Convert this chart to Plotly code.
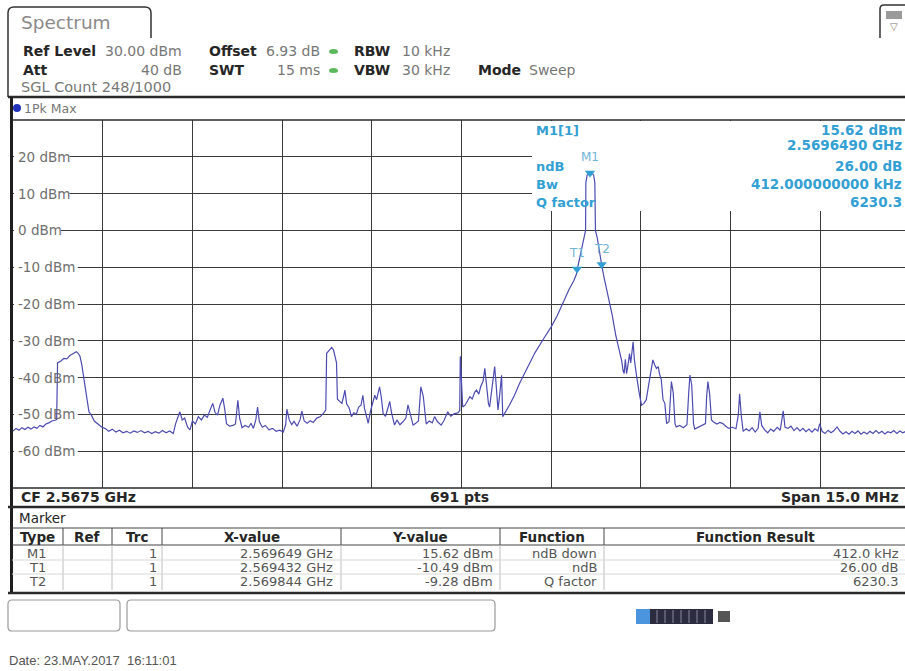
import plotly.graph_objects as go

# ---------------- data ----------------
freq_mhz = [
    2560.00, 2560.05, 2560.10, 2560.15, 2560.20, 2560.25, 2560.30, 2560.35, 2560.40, 2560.45,
    2560.50, 2560.55, 2560.60, 2560.65, 2560.70, 2560.73, 2560.745, 2560.80, 2560.85, 2560.90,
    2560.95, 2561.00, 2561.03, 2561.06, 2561.09, 2561.12, 2561.15, 2561.17, 2561.20, 2561.24,
    2561.27, 2561.31, 2561.36, 2561.42, 2561.48, 2561.55, 2561.60, 2561.66, 2561.72, 2561.78,
    2561.84, 2561.90, 2561.96, 2562.02, 2562.08, 2562.14, 2562.20, 2562.26, 2562.32, 2562.38,
    2562.44, 2562.50, 2562.56, 2562.62, 2562.68, 2562.72, 2562.76, 2562.79, 2562.83, 2562.87,
    2562.92, 2562.96, 2563.00, 2563.05, 2563.10, 2563.15, 2563.20, 2563.25, 2563.30, 2563.34,
    2563.38, 2563.42, 2563.46, 2563.51, 2563.54, 2563.57, 2563.62, 2563.68, 2563.72, 2563.76,
    2563.79, 2563.83, 2563.88, 2563.94, 2563.98, 2564.02, 2564.06, 2564.09, 2564.12, 2564.17,
    2564.22, 2564.28, 2564.34, 2564.40, 2564.46, 2564.52, 2564.56, 2564.58, 2564.62, 2564.66,
    2564.70, 2564.75, 2564.80, 2564.83, 2564.87, 2564.92, 2564.97, 2565.02, 2565.08, 2565.14,
    2565.20, 2565.23, 2565.245, 2565.28, 2565.31, 2565.33, 2565.36, 2565.39, 2565.41, 2565.425,
    2565.46, 2565.50, 2565.53, 2565.55, 2565.58, 2565.62, 2565.66, 2565.70, 2565.74, 2565.78,
    2565.82, 2565.85, 2565.88, 2565.91, 2565.94, 2565.98, 2566.02, 2566.05, 2566.08, 2566.11,
    2566.13, 2566.16, 2566.19, 2566.23, 2566.27, 2566.30, 2566.33, 2566.38, 2566.42, 2566.47,
    2566.52, 2566.57, 2566.605, 2566.64, 2566.69, 2566.73, 2566.78, 2566.82, 2566.86, 2566.91,
    2566.96, 2567.01, 2567.05, 2567.10, 2567.16, 2567.21, 2567.27, 2567.32, 2567.38, 2567.44,
    2567.47, 2567.48, 2567.50, 2567.52, 2567.56, 2567.60, 2567.64, 2567.68, 2567.72, 2567.75,
    2567.79, 2567.82, 2567.86, 2567.89, 2567.92, 2567.95, 2567.97, 2568.00, 2568.03, 2568.055,
    2568.08, 2568.11, 2568.14, 2568.17, 2568.19, 2568.23, 2568.27, 2568.30, 2568.38, 2568.47,
    2568.60, 2568.73, 2568.87, 2569.00, 2569.10, 2569.20, 2569.30, 2569.38, 2569.42, 2569.45,
    2569.50, 2569.56, 2569.575, 2569.58, 2569.60, 2569.63, 2569.649, 2569.68, 2569.71, 2569.73,
    2569.74, 2569.77, 2569.80, 2569.84, 2569.88, 2569.95, 2570.02, 2570.08, 2570.14, 2570.18,
    2570.20, 2570.22, 2570.24, 2570.26, 2570.28, 2570.31, 2570.33, 2570.35, 2570.37, 2570.39,
    2570.41, 2570.43, 2570.47, 2570.51, 2570.55, 2570.59, 2570.63, 2570.67, 2570.70, 2570.73,
    2570.76, 2570.79, 2570.81, 2570.84, 2570.87, 2570.90, 2570.93, 2570.97, 2571.01, 2571.04,
    2571.07, 2571.09, 2571.15, 2571.21, 2571.27, 2571.30, 2571.32, 2571.35, 2571.38, 2571.40,
    2571.46, 2571.52, 2571.58, 2571.60, 2571.62, 2571.65, 2571.68, 2571.71, 2571.77, 2571.82,
    2571.87, 2571.92, 2571.97, 2572.03, 2572.09, 2572.13, 2572.15, 2572.18, 2572.21, 2572.26,
    2572.31, 2572.36, 2572.41, 2572.46, 2572.49, 2572.52, 2572.57, 2572.62, 2572.67, 2572.72,
    2572.78, 2572.83, 2572.88, 2572.91, 2572.96, 2573.01, 2573.06, 2573.11, 2573.16, 2573.21,
    2573.26, 2573.31, 2573.36, 2573.41, 2573.46, 2573.49, 2573.53, 2573.58, 2573.63, 2573.68,
    2573.73, 2573.78, 2573.83, 2573.88, 2573.93, 2573.98, 2574.03, 2574.08, 2574.13, 2574.18,
    2574.23, 2574.28, 2574.33, 2574.38, 2574.43, 2574.48, 2574.53, 2574.58, 2574.63, 2574.68,
    2574.73, 2574.78, 2574.83, 2574.88, 2574.93, 2575.00,
]
level_dbm = [
    -54.5, -53.8, -54.3, -53.6, -54.1, -53.5, -54.0, -53.4, -53.8, -53.0,
    -53.4, -52.6, -52.3, -51.8, -51.6, -51.4, -36.0, -35.5, -34.8, -34.9,
    -34.0, -33.6, -33.2, -33.0, -33.4, -34.2, -36.5, -38.5, -42.0, -46.5,
    -49.3, -50.2, -51.8, -52.6, -53.4, -53.9, -54.6, -54.0, -54.8, -54.3,
    -55.0, -54.6, -55.1, -54.5, -54.9, -54.4, -55.0, -54.6, -55.2, -54.7,
    -55.1, -54.4, -55.0, -54.5, -55.2, -52.5, -50.8, -49.3, -51.5, -51.0,
    -53.5, -54.2, -51.8, -52.6, -50.6, -51.5, -50.2, -50.8, -48.6, -47.0,
    -49.5, -50.2, -47.5, -45.6, -48.5, -52.5, -53.2, -53.0, -52.6, -46.2,
    -51.0, -53.6, -53.0, -53.5, -52.4, -53.8, -51.5, -48.0, -52.0, -53.5,
    -53.0, -54.2, -53.8, -54.6, -54.3, -54.8, -52.8, -48.6, -51.5, -52.8,
    -51.9, -53.2, -51.5, -49.1, -51.8, -52.4, -51.7, -52.2, -51.0, -50.6,
    -49.5, -48.8, -33.4, -32.8, -32.2, -31.8, -32.5, -34.8, -36.0, -45.9,
    -46.5, -47.0, -45.0, -43.4, -47.2, -48.2, -50.6, -49.5, -50.0, -48.0,
    -47.5, -44.8, -48.5, -50.5, -52.4, -49.0, -46.5, -44.8, -46.0, -43.5,
    -42.5, -45.5, -49.8, -50.5, -48.5, -46.5, -49.5, -52.9, -51.5, -52.8,
    -52.0, -51.0, -47.4, -50.0, -52.9, -52.5, -51.8, -42.5, -45.0, -52.6,
    -51.8, -52.3, -50.6, -52.0, -52.9, -51.6, -49.3, -50.5, -49.8, -49.6,
    -49.0, -34.2, -40.0, -48.0, -47.5, -46.3, -45.2, -45.8, -44.0, -43.4,
    -44.5, -42.5, -41.0, -37.5, -42.0, -47.0, -48.0, -44.0, -39.0, -37.0,
    -42.0, -48.8, -44.5, -39.4, -50.6, -49.5, -48.5, -47.5, -45.0, -41.6,
    -37.4, -33.2, -29.5, -26.2, -23.2, -19.5, -16.0, -13.6, -12.0, -9.5,
    -5.5, -1.2, 0.0, 13.0, 15.0, 15.5, 15.62, 15.5, 15.0, 13.0,
    0.0, -2.0, -5.5, -9.0, -12.5, -17.5, -23.0, -28.5, -33.0, -35.5,
    -38.0, -38.9, -35.0, -38.9, -37.0, -33.5, -36.0, -33.5, -30.3, -35.0,
    -38.5, -39.8, -44.0, -47.5, -47.0, -46.0, -42.0, -38.5, -35.2, -36.5,
    -37.5, -37.0, -38.9, -40.5, -46.0, -47.0, -52.5, -52.0, -41.1, -44.0,
    -52.5, -53.4, -53.0, -53.6, -52.8, -44.0, -39.3, -42.0, -52.5, -54.0,
    -53.5, -53.0, -52.5, -45.0, -41.1, -44.5, -51.5, -52.0, -52.6, -52.2,
    -52.5, -53.2, -53.8, -53.5, -53.9, -50.0, -44.4, -50.5, -54.6, -53.9,
    -54.5, -53.6, -54.8, -53.8, -49.3, -53.0, -54.2, -55.0, -54.0, -54.6,
    -53.5, -54.3, -49.0, -53.5, -53.8, -53.2, -54.4, -53.6, -54.5, -53.8,
    -54.7, -54.0, -54.8, -53.9, -54.5, -52.5, -54.6, -55.2, -54.3, -55.0,
    -54.4, -53.4, -54.6, -55.3, -54.7, -55.4, -54.6, -55.2, -54.5, -55.4,
    -54.8, -55.3, -54.6, -55.2, -54.4, -55.1, -54.6, -55.3, -54.7, -55.0,
    -54.4, -55.2, -54.5, -55.0, -54.6, -54.9,
]

marker_names = ["M1", "T1", "T2"]
marker_freq_mhz = [2569.649, 2569.432, 2569.844]
marker_level_dbm = [15.62, -10.49, -9.28]
marker_x_text = ["2.569649 GHz", "2.569432 GHz", "2.569844 GHz"]
marker_y_text = ["15.62 dBm", "-10.49 dBm", "-9.28 dBm"]
marker_function = ["ndB down", "ndB", "Q factor"]
marker_result = ["412.0 kHz", "26.00 dB", "6230.3"]

y_tick_vals = [20, 10, 0, -10, -20, -30, -40, -50, -60]
y_tick_text = ["20 dBm", "10 dBm", "0 dBm", "-10 dBm", "-20 dBm", "-30 dBm",
               "-40 dBm", "-50 dBm", "-60 dBm"]

info_labels = ["M1[1]", "", "ndB", "Bw", "Q factor"]
info_values = ["15.62 dBm", "2.5696490 GHz", "26.00 dB", "412.000000000 kHz", "6230.3"]

table_headers = ["Type", "Ref", "Trc", "X-value", "Y-value", "Function", "Function Result"]

# ---------------- layout helpers ----------------
W, H = 905, 671
PL, PR, PT, PB = 13, 905, 120, 488
X_START, X_END = 2560.0, 2560.0 + (PR - PL) / 59.8
Y_MIN, Y_MAX = -70, 30

def X(px):
    return (px - PL) / (PR - PL)

def Y(py):
    return (PB - py) / (PB - PT)

def FX(px):
    return X_START + (px - PL) / 59.8

def FY(py):
    return Y_MAX - (py - PT) / (PB - PT) * (Y_MAX - Y_MIN)

FONT = "DejaVu Sans"
annotations = []
shapes = []

def text(px, py, s, size=14, color="#222222", anchor="left", weight="normal", family=FONT):
    annotations.append(dict(xref="paper", yref="paper", x=X(px), y=Y(py), text=s,
                            showarrow=False, xanchor=anchor, yanchor="middle", borderpad=0,
                            font=dict(family=family, size=size, color=color, weight=weight)))

def line(x0, y0, x1, y1, color="#333333", width=1.0):
    shapes.append(dict(type="line", xref="paper", yref="paper", x0=X(x0), y0=Y(y0),
                       x1=X(x1), y1=Y(y1), line=dict(color=color, width=width), layer="above"))

def rect(x0, y0, x1, y1, fill="white", color="rgba(0,0,0,0)", width=0):
    shapes.append(dict(type="rect", xref="paper", yref="paper", x0=X(x0), y0=Y(y0),
                       x1=X(x1), y1=Y(y1), fillcolor=fill, line=dict(color=color, width=width),
                       layer="above"))

def path(points, color="#333333", width=1.2, fill=None):
    d = ""
    for cmd, pts in points:
        d += cmd + " " + " ".join(f"{X(a):.5f},{Y(b):.5f}" for a, b in pts) + " "
    s = dict(type="path", xref="paper", yref="paper", path=d.strip(),
             line=dict(color=color, width=width), layer="above")
    if fill:
        s["fillcolor"] = fill
    shapes.append(s)

def between_rect(px0, py0, px1, py1):
    shapes.append(dict(type="rect", xref="x", yref="y", x0=FX(px0), x1=FX(px1),
                       y0=FY(py0), y1=FY(py1), fillcolor="white", line=dict(width=0),
                       layer="between"))

MARK = "#33a0d3"
GRAY = "#777777"
DARK = "#262626"

# ---------------- header / tab ----------------
path([("M", [(8, 97)]), ("L", [(8, 13)]), ("Q", [(8, 7), (14, 7)]), ("L", [(145, 7)]),
      ("Q", [(151, 7), (151, 13)]), ("L", [(151, 38), (878, 38)])], color="#333333", width=1.5)
text(20, 22, "Spectrum", size=18.5, color="#8a8a8a")
# top-right icon
path([("M", [(880, 38)]), ("L", [(880, 9)]), ("Q", [(880, 5), (884, 5)]), ("L", [(905, 5)])],
     color="#333333", width=1.5)
rect(886, 11, 902, 19, fill="#9a9a9a")
text(894, 27, "▽", size=10, color="#777777", anchor="center")

line(8, 97, 905, 97, color="#2a2a2a", width=2.5)

text(22, 51, "Ref Level", weight="bold", color=DARK)
text(183, 51, "30.00 dBm", color=GRAY, anchor="right")
text(208, 51, "Offset", weight="bold", color=DARK)
text(321, 51, "6.93 dB", color=GRAY, anchor="right")
shapes.append(dict(type="circle", xref="paper", yref="paper", x0=X(329), x1=X(338),
                   y0=Y(49), y1=Y(54), fillcolor="#5cb85c", line=dict(width=0)))
text(353, 51, "RBW", weight="bold", color=DARK)
text(401, 51, "10 kHz", color=GRAY)

text(22, 70, "Att", weight="bold", color=DARK)
text(183, 70, "40 dB", color=GRAY, anchor="right")
text(208, 70, "SWT", weight="bold", color=DARK)
text(321, 70, "15 ms", color=GRAY, anchor="right")
shapes.append(dict(type="circle", xref="paper", yref="paper", x0=X(329), x1=X(338),
                   y0=Y(68), y1=Y(73), fillcolor="#5cb85c", line=dict(width=0)))
text(353, 70, "VBW", weight="bold", color=DARK)
text(401, 70, "30 kHz", color=GRAY)
text(477, 70, "Mode", weight="bold", color=DARK)
text(528, 70, "Sweep", color=GRAY)

text(20, 87, "SGL Count 248/1000", size=14.5, color=GRAY)

shapes.append(dict(type="circle", xref="paper", yref="paper", x0=X(13), x1=X(21),
                   y0=Y(104), y1=Y(112), fillcolor="#2233bb", line=dict(width=0)))
text(23, 108, "1Pk Max", size=12.5, color=GRAY)

# ---------------- diagram frame ----------------
line(11.5, 97, 11.5, 594, color="#1e1e1e", width=3)
line(12, PT, 905, PT, color="#2a2a2a", width=1.5)
line(12, PB, 905, PB, color="#2a2a2a", width=1.5)
line(8, 507, 905, 507, color="#2a2a2a", width=2.5)

# white box for marker info (above grid, below trace)
between_rect(532, PT + 1, 906, 211)
# white boxes behind level labels
for v, t in zip(y_tick_vals, y_tick_text):
    py = PT + (Y_MAX - v) / (Y_MAX - Y_MIN) * (PB - PT)
    w = 8.4 * len(t) + 6
    between_rect(PL + 1, py - 6, PL + w, py + 6)
    annotations.append(dict(xref="paper", yref="y", x=X(17), y=v, text=t, showarrow=False,
                            xanchor="left", yanchor="middle", borderpad=0,
                            font=dict(family=FONT, size=13.5, color="#6f6f6f")))

# marker info text
info_rows_y = [130, 145, 166, 184, 202]
for lab, val, py in zip(info_labels, info_values, info_rows_y):
    if lab:
        text(535, py, lab, size=13, color=MARK, weight="bold")
    text(903, py, val, size=13.5, color=MARK, weight="bold", anchor="right")

# bottom info row
text(20, 497, "CF 2.5675 GHz", weight="bold", color=DARK, size=14)
text(460, 497, "691 pts", weight="bold", color=DARK, size=14, anchor="center")
text(900, 497, "Span 15.0 MHz", weight="bold", color=DARK, size=14, anchor="right")

# ---------------- marker table ----------------
text(18, 518, "Marker", color=DARK, size=13.5)
T_TOP, T_HB = 528, 545
row_y = [553, 567, 581]
T_BOT = 590
col_sep = [63, 112, 162, 341, 500, 604]
line(12, T_TOP, 905, T_TOP, color="#444444", width=1)
line(12, T_HB, 905, T_HB, color="#444444", width=1)
for cx in col_sep:
    line(cx, T_TOP, cx, T_HB, color="#444444", width=1)
    line(cx, T_HB, cx, T_BOT, color="#bdbdbd", width=1)
for ry in row_y[:-1]:
    line(12, ry + 7, 905, ry + 7, color="#d8d8d8", width=1)
line(8, 593, 905, 593, color="#2a2a2a", width=2.5)

hdr_x = [37, 87, 137, 252, 420, 552, 755]
for hx, h in zip(hdr_x, table_headers):
    text(hx, 536.5, h, size=13.5, color=DARK, weight="bold", anchor="center")
for i in range(3):
    ry = row_y[i]
    text(37, ry, marker_names[i], size=13, color="#555555", anchor="center")
    text(158, ry, "1", size=13, color="#555555", anchor="right")
    text(334, ry, marker_x_text[i], size=13, color="#555555", anchor="right")
    text(494, ry, marker_y_text[i], size=13, color="#555555", anchor="right")
    text(598, ry, marker_function[i], size=13, color="#555555", anchor="right")
    text(900, ry, marker_result[i], size=13, color="#555555", anchor="right")

# ---------------- status bar ----------------
def rrect(x0, y0, x1, y1, r=4):
    path([("M", [(x0 + r, y0)]), ("L", [(x1 - r, y0)]), ("Q", [(x1, y0), (x1, y0 + r)]),
          ("L", [(x1, y1 - r)]), ("Q", [(x1, y1), (x1 - r, y1)]), ("L", [(x0 + r, y1)]),
          ("Q", [(x0, y1), (x0, y1 - r)]), ("L", [(x0, y0 + r)]), ("Q", [(x0, y0), (x0 + r, y0)])],
         color="#9a9a9a", width=1.2)

rrect(8, 600, 120, 631)
rrect(127, 600, 495, 631)
rect(636, 609, 650, 624, fill="#4b95de")
rect(650, 609, 713, 624, fill="#2c2c40")
for sx in range(657, 713, 8):
    line(sx, 610, sx, 623, color="#8a8aa0", width=1)
rect(718, 611, 730, 622, fill="#555555")
text(8, 660, "Date: 23.MAY.2017  16:11:01", size=13, color="#555555", family="Liberation Sans")

# ---------------- traces ----------------
fig = go.Figure()
fig.add_trace(go.Scatter(x=freq_mhz, y=level_dbm, mode="lines",
                         line=dict(color="#4c4cb0", width=1.2), hoverinfo="skip",
                         showlegend=False))
fig.add_trace(go.Scatter(x=marker_freq_mhz, y=marker_level_dbm, mode="markers",
                         marker=dict(symbol="triangle-down", size=9, color=MARK),
                         hoverinfo="skip", showlegend=False))
for n, fx, fy in zip(marker_names, marker_freq_mhz, marker_level_dbm):
    annotations.append(dict(xref="x", yref="y", x=fx, y=fy, text=n, showarrow=False,
                            yshift=16, xanchor="center", yanchor="middle",
                            font=dict(family=FONT, size=12, color="#6fb4d8")))

fig.update_layout(
    width=W, height=H,
    margin=dict(l=PL, r=W - PR, t=PT, b=H - PB, pad=0),
    paper_bgcolor="white", plot_bgcolor="white",
    showlegend=False,
    xaxis=dict(range=[X_START, X_END], tick0=2560, dtick=1.5, showgrid=True,
               gridcolor="#3a3a3a", gridwidth=1.2, showticklabels=False, ticks="",
               zeroline=False, showline=False, fixedrange=True),
    yaxis=dict(range=[Y_MIN, Y_MAX], tick0=0, dtick=10, showgrid=True,
               gridcolor="#3a3a3a", gridwidth=1.2, showticklabels=False, ticks="",
               zeroline=False, showline=False, fixedrange=True),
    annotations=annotations,
    shapes=shapes,
)

fig.write_html("out.html", config={"displayModeBar": False},
               post_script="document.body.style.margin='0px';document.body.style.overflow='hidden';")
